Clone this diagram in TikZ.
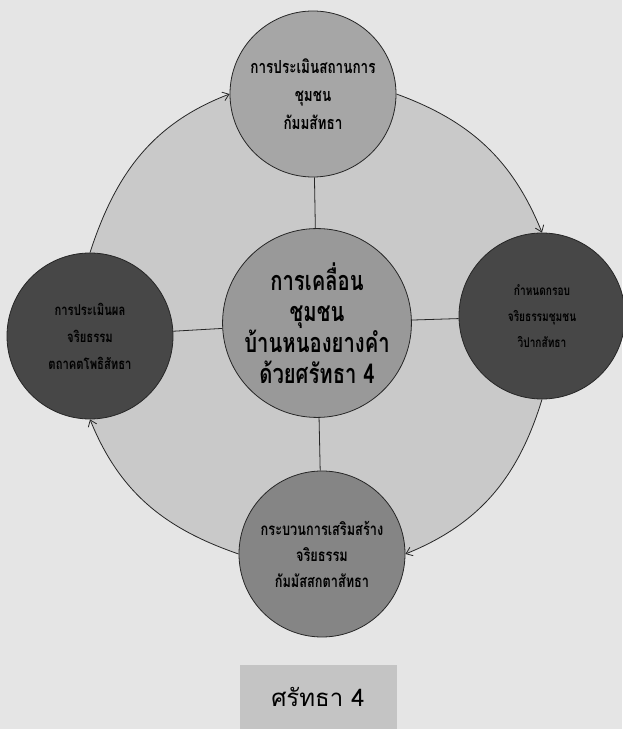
\documentclass[tikz,border=0pt]{standalone}
\usepackage{fontspec}
\newfontfamily\thai[Script=Thai]{Loma}
\newfontfamily\thainarrow[Script=Thai,FakeStretch=0.75]{Loma}
\usetikzlibrary{shapes.geometric,arrows.meta}
\definecolor{paper}{gray}{0.9}
\definecolor{ringfill}{gray}{0.79}
\definecolor{topfill}{gray}{0.65}
\definecolor{ctrfill}{gray}{0.6}
\definecolor{botfill}{gray}{0.52}
\definecolor{darkfill}{gray}{0.28}
\definecolor{capfill}{gray}{0.77}
\pgfdeclarelayer{back}
\pgfsetlayers{back,main}
\begin{document}
\begin{tikzpicture}[x=1pt,y=1pt,
	disc/.style={circle,draw=black!85,line width=0.8pt,inner sep=0pt,minimum size=166pt,align=center},
	spoke/.style={draw=black!85,line width=0.8pt},
	flow/.style={draw=black!85,line width=0.8pt,-{Straight Barb[length=6pt,width=9pt]}}]
	\useasboundingbox (0,0) rectangle (622,729);
	\node[disc,fill=topfill,font=\thainarrow\bfseries\fontsize{18}{28}\selectfont] (top) at (313, 635) {การประเมินสถานการ\\ชุมชน\\กัมมสัทธา};
	\node[disc,fill=ctrfill,font=\thainarrow\bfseries\fontsize{27}{31}\selectfont] (ctr) at (317, 406) {การเคลื่อน\\ชุมชน\\บ้านหนองยางคำ\\ด้วยศรัทธา 4};
	\node[disc,fill=darkfill,font=\thainarrow\bfseries\fontsize{15}{27}\selectfont] (lft) at (90, 393) {การประเมินผล\\จริยธรรม\\ตถาคตโพธิสัทธา};
	\node[disc,fill=darkfill,font=\thainarrow\bfseries\fontsize{13.5}{26}\selectfont] (rgt) at (542, 413) {กำหนดกรอบ\\จริยธรรมชุมชน\\วิปากสัทธา};
	\node[disc,fill=botfill,font=\thainarrow\bfseries\fontsize{17}{26}\selectfont] (bot) at (322, 175) {กระบวนการเสริมสร้าง\\จริยธรรม\\กัมมัสสกตาสัทธา};
	\draw[spoke] (ctr) -- (top);
	\draw[spoke] (ctr) -- (bot);
	\draw[spoke] (ctr) -- (lft);
	\draw[spoke] (ctr) -- (rgt);
	\draw[flow] (lft.north) to[out=72,in=201] (top.west);
	\draw[flow] (top.east) to[out=-20,in=112] (rgt.north);
	\draw[flow] (rgt.south) to[out=-107,in=22] (bot.east);
	\draw[flow] (bot.west) to[out=161,in=292] (lft.south);
	\node[fill=capfill,minimum width=157pt,minimum height=64pt,inner sep=0pt,font=\thai\fontsize{24}{28}\selectfont] (cap) at (318, 32) {ศรัทธา 4};
	\begin{pgfonlayer}{back}
		\fill[paper] (0,0) rectangle (622,729);
		\fill[ringfill] (lft.north) to[out=72,in=201] (top.west) -- (top.east) to[out=-20,in=112] (rgt.north) -- (rgt.south) to[out=-107,in=22] (bot.east) -- (bot.west) to[out=161,in=292] (lft.south) -- cycle;
	\end{pgfonlayer}
\end{tikzpicture}
\end{document}
